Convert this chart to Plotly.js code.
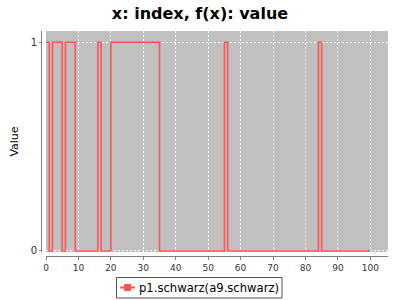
<!DOCTYPE html>
<html>
<head>
<meta charset="utf-8">
<script src="https://cdn.plot.ly/plotly-3.0.1.min.js"></script>
<style>html,body{margin:0;padding:0;background:#fff;}#chart{width:400px;height:300px;}</style>
</head>
<body>
<div id="chart"></div>
<script>
// Data
const seriesName = "p1.schwarz(a9.schwarz)";
const indexValues = [
  0,1,2,3,4,5,6,7,8,9,
  10,11,12,13,14,15,16,17,18,19,
  20,21,22,23,24,25,26,27,28,29,
  30,31,32,33,34,35,36,37,38,39,
  40,41,42,43,44,45,46,47,48,49,
  50,51,52,53,54,55,56,57,58,59,
  60,61,62,63,64,65,66,67,68,69,
  70,71,72,73,74,75,76,77,78,79,
  80,81,82,83,84,85,86,87,88,89,
  90,91,92,93,94,95,96,97,98,99,
  100
];
const seriesValues = [
  1,0,1,1,1,0,1,1,1,0,
  0,0,0,0,0,0,1,0,0,0,
  1,1,1,1,1,1,1,1,1,1,
  1,1,1,1,1,0,0,0,0,0,
  0,0,0,0,0,0,0,0,0,0,
  0,0,0,0,0,1,0,0,0,0,
  0,0,0,0,0,0,0,0,0,0,
  0,0,0,0,0,0,0,0,0,0,
  0,0,0,0,1,0,0,0,0,0,
  0,0,0,0,0,0,0,0,0,0,
  0
];
const xTickValues = [0,10,20,30,40,50,60,70,80,90,100];
const yTickValues = [0,1];

const lineColor = '#FF5555';
const font = 'DejaVu Sans, sans-serif';

// plot-area geometry in pixels (for placing the legend box below the plot)
const W = 400, H = 300, ML = 41, MR = 12, MT = 31, MB = 44;
const PW = W - ML - MR, PH = H - MT - MB;
const px = v => (v - ML) / PW;
const py = v => (H - MB - v) / PH;

const traces = [
  {
    x: indexValues, y: seriesValues, type: 'scatter', mode: 'lines',
    name: seriesName,
    line: {color: lineColor, width: 1.6, shape: 'hv'},
    showlegend: false, hoverinfo: 'skip'
  }
];

const layout = {
  width: W, height: H,
  margin: {l: ML, r: MR, t: MT, b: MB, pad: 0},
  paper_bgcolor: '#ffffff',
  plot_bgcolor: '#C0C0C0',
  font: {family: font, color: '#000'},
  showlegend: false,
  title: {
    text: '<b>x: index, f(x): value</b>',
    font: {family: font, size: 16, color: '#000'},
    xref: 'container', yref: 'container', x: 0.5, xanchor: 'center',
    y: 1 - 13/300, yanchor: 'middle'
  },
  xaxis: {
    domain: [5/PW, 1],
    range: [0, 105.45],
    anchor: 'free', position: 0,
    tickvals: xTickValues,
    ticks: 'outside', ticklen: 3, tickcolor: '#808080', tickwidth: 1,
    showline: true, linecolor: '#808080', linewidth: 1,
    showgrid: true, gridcolor: '#ffffff', griddash: '2px,2px', gridwidth: 1,
    zeroline: false,
    tickfont: {family: font, size: 9, color: '#333'}
  },
  yaxis: {
    domain: [4/PH, 1],
    range: [-0.005, 1.054],
    anchor: 'free', position: 0,
    tickvals: yTickValues,
    ticks: 'outside', ticklen: 2, tickcolor: '#808080', tickwidth: 1,
    showline: true, linecolor: '#808080', linewidth: 1,
    showgrid: true, gridcolor: '#ffffff', griddash: '2px,2px', gridwidth: 1,
    zeroline: false,
    tickfont: {family: font, size: 10, color: '#333'},
    title: {text: 'Value', font: {family: font, size: 11, color: '#000'}, standoff: 8}
  },
  shapes: [
    {type: 'rect', xref: 'paper', yref: 'paper',
     x0: px(116.5), x1: px(282), y0: py(298), y1: py(277.5),
     line: {color: '#555555', width: 1}, fillcolor: '#ffffff'},
    {type: 'line', xref: 'paper', yref: 'paper',
     x0: px(120), x1: px(135), y0: py(287.5), y1: py(287.5),
     line: {color: lineColor, width: 2}},
    {type: 'rect', xref: 'paper', yref: 'paper',
     x0: px(124), x1: px(131), y0: py(291), y1: py(284),
     line: {width: 0}, fillcolor: lineColor}
  ],
  annotations: [
    {text: seriesName, xref: 'paper', yref: 'paper',
     x: px(137), y: py(287.5), xanchor: 'left', yanchor: 'middle',
     showarrow: false, font: {family: font, size: 11.6, color: '#000'}}
  ]
};

Plotly.newPlot('chart', traces, layout, {staticPlot: true, displayModeBar: false});
</script>
</body>
</html>
